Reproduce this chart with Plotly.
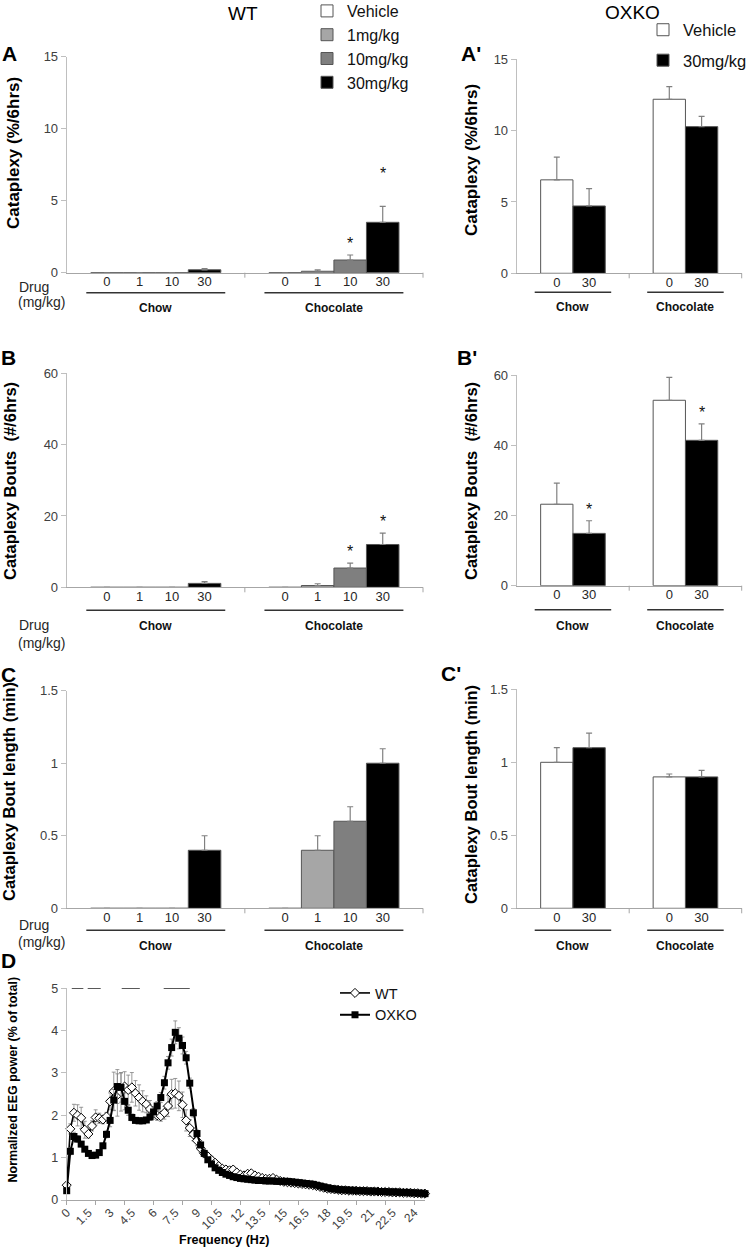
import plotly.graph_objects as go

W, H = 752, 1249
FONT = "Liberation Sans, Arial, sans-serif"

# ---------------- data ----------------
groups = ["Chow", "Chocolate"]
wt_doses = ["0", "1", "10", "30"]
wt_names = ["Vehicle", "1mg/kg", "10mg/kg", "30mg/kg"]
ko_doses = ["0", "30"]
ko_names = ["Vehicle", "30mg/kg"]

# WT (A) cataplexy %/6hrs  [Chow, Chocolate]
wt_pct = {"Vehicle": [0, 0], "1mg/kg": [0, 0.1], "10mg/kg": [0, 0.88], "30mg/kg": [0.2, 3.5]}
wt_pct_err = {"Vehicle": [None, None], "1mg/kg": [None, 0.1], "10mg/kg": [None, 0.35], "30mg/kg": [0.08, 1.1]}
wt_pct_stars = [("10mg/kg", 1, 0), ("30mg/kg", 1, 21)]

# WT (B) cataplexy bouts #/6hrs
wt_bouts = {"Vehicle": [0, 0], "1mg/kg": [0, 0.5], "10mg/kg": [0, 5.4], "30mg/kg": [1.1, 12.0]}
wt_bouts_err = {"Vehicle": [None, None], "1mg/kg": [None, 0.5], "10mg/kg": [None, 1.4], "30mg/kg": [0.5, 3.2]}
wt_bouts_stars = [("10mg/kg", 1, 0), ("30mg/kg", 1, 0)]

# WT (C) bout length (min)
wt_len = {"Vehicle": [0, 0], "1mg/kg": [0, 0.4], "10mg/kg": [0, 0.6], "30mg/kg": [0.4, 1.0]}
wt_len_err = {"Vehicle": [None, None], "1mg/kg": [None, 0.1], "10mg/kg": [None, 0.1], "30mg/kg": [0.1, 0.1]}

# OXKO (A')
ko_pct = {"Vehicle": [6.55, 12.2], "30mg/kg": [4.72, 10.28]}
ko_pct_err = {"Vehicle": [1.6, 0.88], "30mg/kg": [1.22, 0.72]}
# OXKO (B')
ko_bouts = {"Vehicle": [23.2, 52.8], "30mg/kg": [14.9, 41.4]}
ko_bouts_err = {"Vehicle": [6.0, 6.5], "30mg/kg": [3.6, 4.7]}
ko_bouts_stars = [("30mg/kg", 0, 0), ("30mg/kg", 1, 0)]
# OXKO (C')
ko_len = {"Vehicle": [1.0, 0.9], "30mg/kg": [1.1, 0.9]}
ko_len_err = {"Vehicle": [0.1, 0.02], "30mg/kg": [0.1, 0.045]}

# D: EEG spectrum, 0.25 Hz bins
freq = [0, 0.25, 0.5, 0.75, 1, 1.25, 1.5, 1.75, 2, 2.25, 2.5, 2.75, 3, 3.25, 3.5, 3.75,
        4, 4.25, 4.5, 4.75, 5, 5.25, 5.5, 5.75, 6, 6.25, 6.5, 6.75, 7, 7.25, 7.5, 7.75,
        8, 8.25, 8.5, 8.75, 9, 9.25, 9.5, 9.75, 10, 10.25, 10.5, 10.75, 11, 11.25, 11.5, 11.75,
        12, 12.25, 12.5, 12.75, 13, 13.25, 13.5, 13.75, 14, 14.25, 14.5, 14.75, 15, 15.25, 15.5, 15.75,
        16, 16.25, 16.5, 16.75, 17, 17.25, 17.5, 17.75, 18, 18.25, 18.5, 18.75, 19, 19.25, 19.5, 19.75,
        20, 20.25, 20.5, 20.75, 21, 21.25, 21.5, 21.75, 22, 22.25, 22.5, 22.75, 23, 23.25, 23.5, 23.75,
        24, 24.25, 24.5, 24.75]
eeg_wt = [0.35, 1.68, 2.06, 2.00, 1.94, 1.66, 1.56, 1.75, 1.95, 1.93, 1.90, 1.97, 2.33, 2.57, 2.48, 2.55,
          2.68, 2.60, 2.66, 2.52, 2.42, 2.33, 2.26, 2.15, 2.06, 2.00, 1.98, 2.06, 2.22, 2.50, 2.52, 2.46,
          2.25, 1.88, 1.70, 1.55, 1.40, 1.22, 1.10, 1.03, 0.95, 0.88, 0.80, 0.74, 0.72, 0.70, 0.72, 0.65,
          0.60, 0.58, 0.62, 0.63, 0.58, 0.55, 0.52, 0.50, 0.50, 0.52, 0.48, 0.45, 0.43, 0.42, 0.41, 0.40,
          0.39, 0.38, 0.37, 0.36, 0.35, 0.33, 0.31, 0.29, 0.27, 0.26, 0.25, 0.24, 0.23, 0.23, 0.22, 0.22,
          0.22, 0.21, 0.21, 0.21, 0.20, 0.20, 0.20, 0.19, 0.19, 0.19, 0.18, 0.18, 0.18, 0.17, 0.17, 0.17,
          0.16, 0.16, 0.15, 0.15]
eeg_wt_err = [0.05, 0.12, 0.20, 0.25, 0.25, 0.20, 0.10, 0.12, 0.18, 0.12, 0.10, 0.10, 0.20, 0.45, 0.50, 0.45,
              0.35, 0.35, 0.35, 0.30, 0.30, 0.25, 0.20, 0.20, 0.15, 0.12, 0.12, 0.15, 0.25, 0.35, 0.35, 0.35,
              0.30, 0.25, 0.20, 0.15, 0.12, 0.10, 0.10, 0.08, 0.08, 0.07, 0.06, 0.06, 0.05, 0.05, 0.05, 0.04,
              0.04, 0.04, 0.04, 0.04, 0.03, 0.03, 0.03, 0.03, 0.03, 0.03, 0.03, 0.03, 0.03, 0.03, 0.03, 0.03,
              0.02, 0.02, 0.02, 0.02, 0.02, 0.02, 0.02, 0.02, 0.02, 0.02, 0.02, 0.02, 0.02, 0.02, 0.02, 0.02,
              0.02, 0.02, 0.02, 0.02, 0.02, 0.02, 0.02, 0.02, 0.02, 0.02, 0.02, 0.02, 0.02, 0.02, 0.02, 0.02,
              0.02, 0.02, 0.02, 0.02]
eeg_ko = [0.22, 1.15, 1.50, 1.44, 1.32, 1.20, 1.10, 1.05, 1.06, 1.12, 1.28, 1.55, 1.88, 2.36, 2.68, 2.66,
          2.33, 2.12, 1.95, 1.88, 1.87, 1.87, 1.89, 1.96, 2.08, 2.22, 2.42, 2.77, 3.24, 3.60, 3.96, 3.82,
          3.65, 3.36, 2.76, 2.06, 1.57, 1.30, 1.10, 0.95, 0.85, 0.76, 0.70, 0.65, 0.61, 0.58, 0.55, 0.53,
          0.51, 0.50, 0.49, 0.48, 0.47, 0.46, 0.46, 0.45, 0.45, 0.45, 0.44, 0.44, 0.44, 0.44, 0.43, 0.42,
          0.41, 0.40, 0.39, 0.38, 0.37, 0.35, 0.33, 0.31, 0.29, 0.27, 0.26, 0.25, 0.24, 0.24, 0.23, 0.23,
          0.22, 0.22, 0.22, 0.21, 0.21, 0.21, 0.20, 0.20, 0.20, 0.19, 0.19, 0.19, 0.18, 0.18, 0.18, 0.17,
          0.17, 0.16, 0.16, 0.15]
eeg_ko_err = [0.03, 0.08, 0.10, 0.08, 0.06, 0.05, 0.05, 0.05, 0.05, 0.05, 0.06, 0.08, 0.15, 0.25, 0.40, 0.35,
              0.20, 0.12, 0.08, 0.06, 0.06, 0.06, 0.06, 0.08, 0.10, 0.10, 0.12, 0.15, 0.15, 0.20, 0.27, 0.25,
              0.20, 0.15, 0.12, 0.10, 0.08, 0.06, 0.05, 0.04, 0.04, 0.03, 0.03, 0.03, 0.03, 0.03, 0.03, 0.03,
              0.02, 0.02, 0.02, 0.02, 0.02, 0.02, 0.02, 0.02, 0.02, 0.02, 0.02, 0.02, 0.02, 0.02, 0.02, 0.02,
              0.02, 0.02, 0.02, 0.02, 0.02, 0.02, 0.02, 0.02, 0.02, 0.02, 0.02, 0.02, 0.02, 0.02, 0.02, 0.02,
              0.02, 0.02, 0.02, 0.02, 0.02, 0.02, 0.02, 0.02, 0.02, 0.02, 0.02, 0.02, 0.02, 0.02, 0.02, 0.02,
              0.02, 0.02, 0.02, 0.02]
freq_ticks = [0, 1.5, 3, 4.5, 6, 7.5, 9, 10.5, 12, 13.5, 15, 16.5, 18, 19.5, 21, 22.5, 24]
sig_ranges = [(0.35, 1.15), (1.45, 2.35), (3.8, 5.05), (6.7, 8.5)]

# ---------------- style ----------------
bar_colors = {"Vehicle": "#FFFFFF", "1mg/kg": "#A6A6A6", "10mg/kg": "#7F7F7F", "30mg/kg": "#000000"}
AXIS_GRAY = "#A6A6A6"
TICK_COLOR = "#404040"
ERR_GRAY = "#808080"

fig = go.Figure()
layout_axes = {}
annotations = []
shapes = []


def xd(p0, p1):
    return [p0 / W, p1 / W]


def yd(top, bottom):
    return [1 - bottom / H, 1 - top / H]


def ax_names(i):
    return ("x" if i == 1 else f"x{i}"), ("y" if i == 1 else f"y{i}")


def bar_panel(i, xpx, ypx, names, doses, vals, errs, yrange, dtick, bar_w,
              legend=None, stars=(), line_half=0.39, line_off=20, label_off=35):
    xa, ya = ax_names(i)
    xdom = xd(*xpx)
    ydom = yd(*ypx)
    bottom = ypx[1]
    gidx = list(range(len(groups)))
    x_lo, x_hi = -0.5, len(groups) - 0.5

    def xp(v):  # data x -> paper x
        return xdom[0] + (v - x_lo) / (x_hi - x_lo) * (xdom[1] - xdom[0])

    n = len(names)
    start = -bar_w * n / 2
    for k, name in enumerate(names):
        e = errs[name]
        fig.add_trace(go.Bar(
            x=gidx, y=vals[name], width=bar_w, offset=start + k * bar_w,
            name=name, xaxis=xa, yaxis=ya,
            marker=dict(color=bar_colors[name], line=dict(color="#555555", width=1)),
            error_y=dict(type="data", array=e, symmetric=False,
                         arrayminus=[None if v is None else 0 for v in e],
                         color=ERR_GRAY, thickness=1.2, width=3),
            showlegend=legend is not None,
            legend=legend if legend else "legend",
            legendgroup=f"{legend}_{name}",
        ))
    tickvals = [g + start + (k + 0.5) * bar_w for g in gidx for k in range(n)]
    ticktext = [d for g in gidx for d in doses]
    key_x = "xaxis" if i == 1 else f"xaxis{i}"
    key_y = "yaxis" if i == 1 else f"yaxis{i}"
    layout_axes[key_x] = dict(domain=xdom, anchor=ya, range=[x_lo, x_hi],
                              showline=True, linecolor=AXIS_GRAY, linewidth=1,
                              tickmode="array", tickvals=tickvals, ticktext=ticktext,
                              ticks="", showgrid=False, zeroline=False, ticklabelstandoff=-3,
                              tickfont=dict(size=13, color="#262626", family=FONT))
    layout_axes[key_y] = dict(domain=ydom, anchor=xa, range=yrange, dtick=dtick,
                              showline=True, linecolor="#BFBFBF", linewidth=1,
                              ticks="outside", ticklen=5, tickcolor="#BFBFBF",
                              showgrid=False, zeroline=False,
                              tickfont=dict(size=13, color=TICK_COLOR, family=FONT))
    # category dividers
    for b in [g + 0.5 for g in gidx]:
        shapes.append(dict(type="line", xref="paper", yref="paper", x0=xp(b), x1=xp(b),
                           y0=1 - bottom / H, y1=1 - (bottom + 5) / H,
                           line=dict(color=AXIS_GRAY, width=1)))
    # group lines + labels
    for g, gname in zip(gidx, groups):
        yl = 1 - (bottom + line_off) / H
        shapes.append(dict(type="line", xref="paper", yref="paper",
                           x0=xp(g - line_half), x1=xp(g + line_half), y0=yl, y1=yl,
                           line=dict(color="#333333", width=1.5)))
        annotations.append(dict(text=f"<b>{gname}</b>", xref="paper", yref="paper",
                                x=xp(g), y=1 - (bottom + label_off) / H,
                                showarrow=False, xanchor="center", yanchor="middle",
                                font=dict(size=12, family=FONT, color="#111111")))
    for name, g, extra in stars:
        k = names.index(name)
        top = vals[name][g] + (errs[name][g] or 0)
        annotations.append(dict(text="*", xref=xa, yref=ya, x=g + start + (k + 0.5) * bar_w,
                                y=top, xanchor="center", yanchor="bottom", yshift=1 + extra,
                                showarrow=False,
                                font=dict(size=16, family=FONT, color="#111111")))


WT_W = 32.5 / 178.0
KO_W = 32.3 / 112.5

bar_panel(1, (66.7, 423), (56.7, 272.7), wt_names, wt_doses, wt_pct, wt_pct_err, [0, 15], 5,
          WT_W, legend="legend", stars=wt_pct_stars, line_off=20, label_off=35)
bar_panel(2, (516.7, 741.7), (59.3, 273.3), ko_names, ko_doses, ko_pct, ko_pct_err, [0, 15], 5,
          KO_W, legend="legend2", line_half=0.34, line_off=19, label_off=34)
bar_panel(3, (66.7, 423), (373.3, 587.3), wt_names, wt_doses, wt_bouts, wt_bouts_err, [0, 60], 20,
          WT_W, stars=wt_bouts_stars, line_off=23, label_off=39)
bar_panel(4, (516.7, 741.7), (375, 585.7), ko_names, ko_doses, ko_bouts, ko_bouts_err, [0, 60], 20,
          KO_W, stars=ko_bouts_stars, line_half=0.34, line_off=24, label_off=40)
bar_panel(5, (66.7, 423), (690.7, 908.3), wt_names, wt_doses, wt_len, wt_len_err, [0, 1.5], 0.5,
          WT_W, line_off=22, label_off=38)
bar_panel(6, (516.7, 741.7), (689.3, 908.3), ko_names, ko_doses, ko_len, ko_len_err, [0, 1.5], 0.5,
          KO_W, line_half=0.34, line_off=22, label_off=38)

# ---------------- D ----------------
fig.add_trace(go.Scatter(
    x=freq, y=eeg_wt, name="WT", mode="lines+markers", xaxis="x7", yaxis="y7",
    line=dict(color="#000000", width=1.6),
    marker=dict(symbol="diamond", size=7, color="#FFFFFF", line=dict(color="#000000", width=1)),
    error_y=dict(type="data", array=eeg_wt_err, color=ERR_GRAY, thickness=0.8, width=2),
    legend="legend3", cliponaxis=False))
fig.add_trace(go.Scatter(
    x=freq, y=eeg_ko, name="OXKO", mode="lines+markers", xaxis="x7", yaxis="y7",
    line=dict(color="#000000", width=2),
    marker=dict(symbol="square", size=7, color="#000000"),
    error_y=dict(type="data", array=eeg_ko_err, color=ERR_GRAY, thickness=0.8, width=2),
    legend="legend3", cliponaxis=False))
layout_axes["xaxis7"] = dict(domain=xd(66.7, 425), anchor="y7", range=[0, freq[-1]],
                             showline=True, linecolor=AXIS_GRAY, showgrid=False, zeroline=False,
                             tickmode="array", tickvals=freq_ticks,
                             ticktext=[f"{t:g}" for t in freq_ticks], ticks="", tickangle=-45,
                             tickfont=dict(size=12, color=TICK_COLOR, family=FONT),
                             minor=dict(ticks="outside", ticklen=4, tickcolor=AXIS_GRAY, dtick=2, tick0=0))
layout_axes["yaxis7"] = dict(domain=yd(988.3, 1200), anchor="x7", range=[0, 5], dtick=1,
                             showline=True, linecolor="#BFBFBF", ticks="outside", ticklen=5,
                             tickcolor="#BFBFBF", showgrid=False, zeroline=False,
                             tickfont=dict(size=12.5, color=TICK_COLOR, family=FONT))
for a, b in sig_ranges:
    shapes.append(dict(type="line", xref="x7", yref="y7", x0=a, x1=b, y0=5, y1=5,
                       line=dict(color="#222222", width=1.3)))

# ---------------- texts ----------------
def ann(text, x, y, size, bold=False, angle=0, color="#000000", xanchor="center"):
    annotations.append(dict(text=f"<b>{text}</b>" if bold else text, xref="paper", yref="paper",
                            x=x / W, y=1 - y / H, showarrow=False, textangle=angle,
                            xanchor=xanchor, yanchor="middle",
                            font=dict(size=size, family=FONT, color=color)))

ann("WT", 243, 13, 19)
ann("OXKO", 632, 12, 19)
ann("A", 9, 54, 21, bold=True)
ann("A'", 471, 54, 21, bold=True)
ann("B", 8, 357, 21, bold=True)
ann("B'", 467, 357, 21, bold=True)
ann("C", 8, 674, 21, bold=True)
ann("C'", 451, 673, 21, bold=True)
ann("D", 8, 960, 21, bold=True)

ann("Cataplexy (%/6hrs)", 13, 153, 17, bold=True, angle=-90)
ann("Cataplexy (%/6hrs)", 471, 160, 17, bold=True, angle=-90)
ann("Cataplexy Bouts \u00a0(#/6hrs)", 10, 481, 16.5, bold=True, angle=-90)
ann("Cataplexy Bouts \u00a0(#/6hrs)", 471, 481, 16.5, bold=True, angle=-90)
ann("Cataplexy Bout length (min)", 9, 792, 16.5, bold=True, angle=-90)
ann("Cataplexy Bout length (min)", 471, 795, 16.5, bold=True, angle=-90)
ann("Normalized EEG power (% of total)", 12.5, 1080, 12.5, bold=True, angle=-90)
ann("Frequency (Hz)", 224.5, 1240, 12.5, bold=True)

for y1, y2 in [(287, 302), (625, 643), (925, 942)]:
    ann("Drug", 17, y1, 14, xanchor="left", color="#262626")
    ann("(mg/kg)", 16, y2, 14, xanchor="left", color="#262626")

legend_common = dict(bgcolor="rgba(0,0,0,0)", borderwidth=0, xanchor="left", yanchor="top",
                     itemclick=False, itemdoubleclick=False)

fig.update_layout(
    width=W, height=H, margin=dict(l=0, r=0, t=0, b=0, autoexpand=False),
    paper_bgcolor="white", plot_bgcolor="white",
    font=dict(family=FONT, color="#000000"),
    showlegend=True,
    legend=dict(x=307 / W, y=1 + 6 / H, font=dict(size=16, family=FONT, color="#111111"),
                traceorder="normal", **legend_common),
    legend2=dict(x=643 / W, y=1 - 12.5 / H, font=dict(size=16.5, family=FONT, color="#111111"),
                 traceorder="grouped", tracegroupgap=6, **legend_common),
    legend3=dict(x=335 / W, y=1 - 977 / H, font=dict(size=14.5, family=FONT, color="#111111"),
                 traceorder="normal", **legend_common),
    annotations=annotations, shapes=shapes,
    **layout_axes,
)

fig.write_html("out.html", config={"displayModeBar": False},
               post_script="document.body.style.margin='0px';")
